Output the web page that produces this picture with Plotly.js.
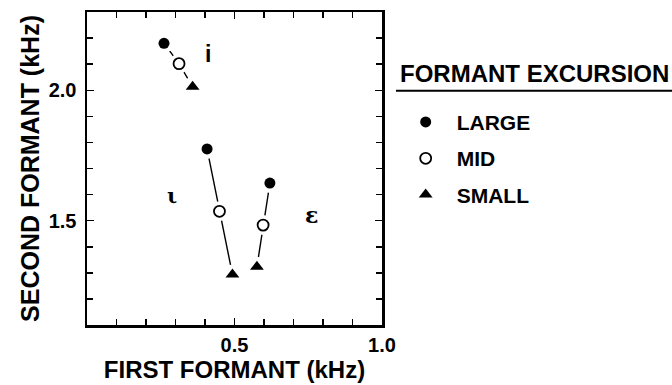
<!DOCTYPE html>
<html>
<head>
<meta charset="utf-8">
<script src="https://cdn.plot.ly/plotly-3.0.1.min.js"></script>
<style>html,body{margin:0;padding:0;background:#fff;}#chart{width:672px;height:385px;}</style>
</head>
<body>
<div id="chart"></div>
<script>
// Vowels (order: i, ι, ε)
const vowels = ["i", "ι", "ε"];
// First formant (kHz) per excursion level
const f1Large = [0.261, 0.407, 0.620];
const f1Mid   = [0.312, 0.449, 0.597];
const f1Small = [0.358, 0.493, 0.576];
// Second formant (kHz) per excursion level
const f2Large = [2.180, 1.775, 1.644];
const f2Mid   = [2.102, 1.536, 1.483];
const f2Small = [2.013, 1.294, 1.323];
const levelNames = ["LARGE", "MID", "SMALL"];
const xTickVals = [0.5, 1.0];
const xTickText = ["0.5", "1.0"];
const yTickVals = [1.5, 2.0];
const yTickText = ["1.5", "2.0"];

const FONT = "Liberation Sans, Arial, Helvetica, sans-serif";
const traces = [];

// connecting lines per vowel
vowels.forEach((v, k) => {
  traces.push({
    x: [f1Large[k], f1Mid[k], f1Small[k]],
    y: [f2Large[k], f2Mid[k], f2Small[k]],
    mode: "lines", type: "scatter", showlegend: false, hoverinfo: "skip",
    line: {color: "black", width: 1.4}
  });
});

// white halos to create gaps around markers
const allX = f1Large.concat(f1Mid, f1Small);
const allY = f2Large.concat(f2Mid, f2Small);
traces.push({
  x: allX, y: allY, mode: "markers", type: "scatter", showlegend: false, hoverinfo: "skip",
  marker: {color: "white", size: 20, line: {width: 0}}
});

const levels = [
  {x: f1Large, y: f2Large, marker: {symbol: "circle", size: 11, color: "black", line: {color: "black", width: 0}}},
  {x: f1Mid, y: f2Mid, marker: {symbol: "circle", size: 11, color: "white", line: {color: "black", width: 1.8}}},
  {x: f1Small, y: f2Small, marker: {symbol: "triangle-up", size: 12, color: "black", line: {color: "black", width: 0}}}
];
levels.forEach((lv, i) => {
  traces.push({
    x: lv.x, y: lv.y, name: "<b>" + levelNames[i] + "</b>", mode: "markers", type: "scatter",
    legendgroup: "g" + i,
    marker: lv.marker
  });
});

const bold = arr => arr.map(t => "<b>" + t + "</b>");

const axisCommon = {
  showline: true, linecolor: "black", linewidth: 2.5, mirror: "ticks",
  ticks: "inside", ticklen: 7, tickwidth: 1.5, tickcolor: "black",
  showgrid: false, zeroline: false,
  tickfont: {family: FONT, size: 20, color: "black", weight: 700},
  minor: {dtick: 0.1, ticks: "inside", ticklen: 6, tickwidth: 1.5, tickcolor: "black", showgrid: false}
};

const layout = {
  width: 672, height: 385,
  margin: {l: 87, r: 290, t: 12, b: 60},
  paper_bgcolor: "white", plot_bgcolor: "white",
  showlegend: true,
  xaxis: Object.assign({}, axisCommon, {
    range: [0, 1.0], tickmode: "array", tickvals: xTickVals, ticktext: bold(xTickText),
    minor: Object.assign({}, axisCommon.minor, {tick0: 0}),
    ticklabelstandoff: 0,
    title: {text: "<b>FIRST FORMANT (kHz)</b>", font: {family: FONT, size: 24, color: "black"}, standoff: 7}
  }),
  yaxis: Object.assign({}, axisCommon, {
    range: [1.1, 2.3], tickmode: "array", tickvals: yTickVals, ticktext: bold(yTickText),
    minor: Object.assign({}, axisCommon.minor, {tick0: 1.1}),
    ticklabelstandoff: 4,
    title: {text: "<b>SECOND FORMANT (kHz)</b>", font: {family: FONT, size: 25, color: "black"}, standoff: 2}
  }),
  legend: {
    x: 1.043, xanchor: "left", y: 0.713, yanchor: "top",
    font: {family: FONT, size: 21, color: "black"},
    bgcolor: "rgba(0,0,0,0)", borderwidth: 0, itemwidth: 52, tracegroupgap: 6
  },
  annotations: [
    {text: "<b>i</b>", x: 0.409, y: 2.14, xref: "x", yref: "y", showarrow: false,
     font: {family: FONT, size: 23, color: "black"}},
    {text: "<b>ι</b>", x: 0.287, y: 1.597, xref: "x", yref: "y", showarrow: false,
     font: {family: "DejaVu Serif, serif", size: 21, color: "black"}},
    {text: "<b>ε</b>", x: 0.762, y: 1.52, xref: "x", yref: "y", showarrow: false,
     font: {family: "DejaVu Serif, serif", size: 22, color: "black"}},
    {text: "<b>FORMANT EXCURSION</b>", x: 1.055, y: 0.804, xref: "paper", yref: "paper",
     xanchor: "left", yanchor: "middle", showarrow: false,
     font: {family: FONT, size: 24, color: "black"}}
  ],
  shapes: [
    {type: "line", xref: "paper", yref: "paper", x0: 1.0475, x1: 1.983, y0: 0.7486, y1: 0.7486,
     line: {color: "black", width: 2}}
  ]
};

Plotly.newPlot("chart", traces, layout, {displayModeBar: false, staticPlot: true});
</script>
</body>
</html>
